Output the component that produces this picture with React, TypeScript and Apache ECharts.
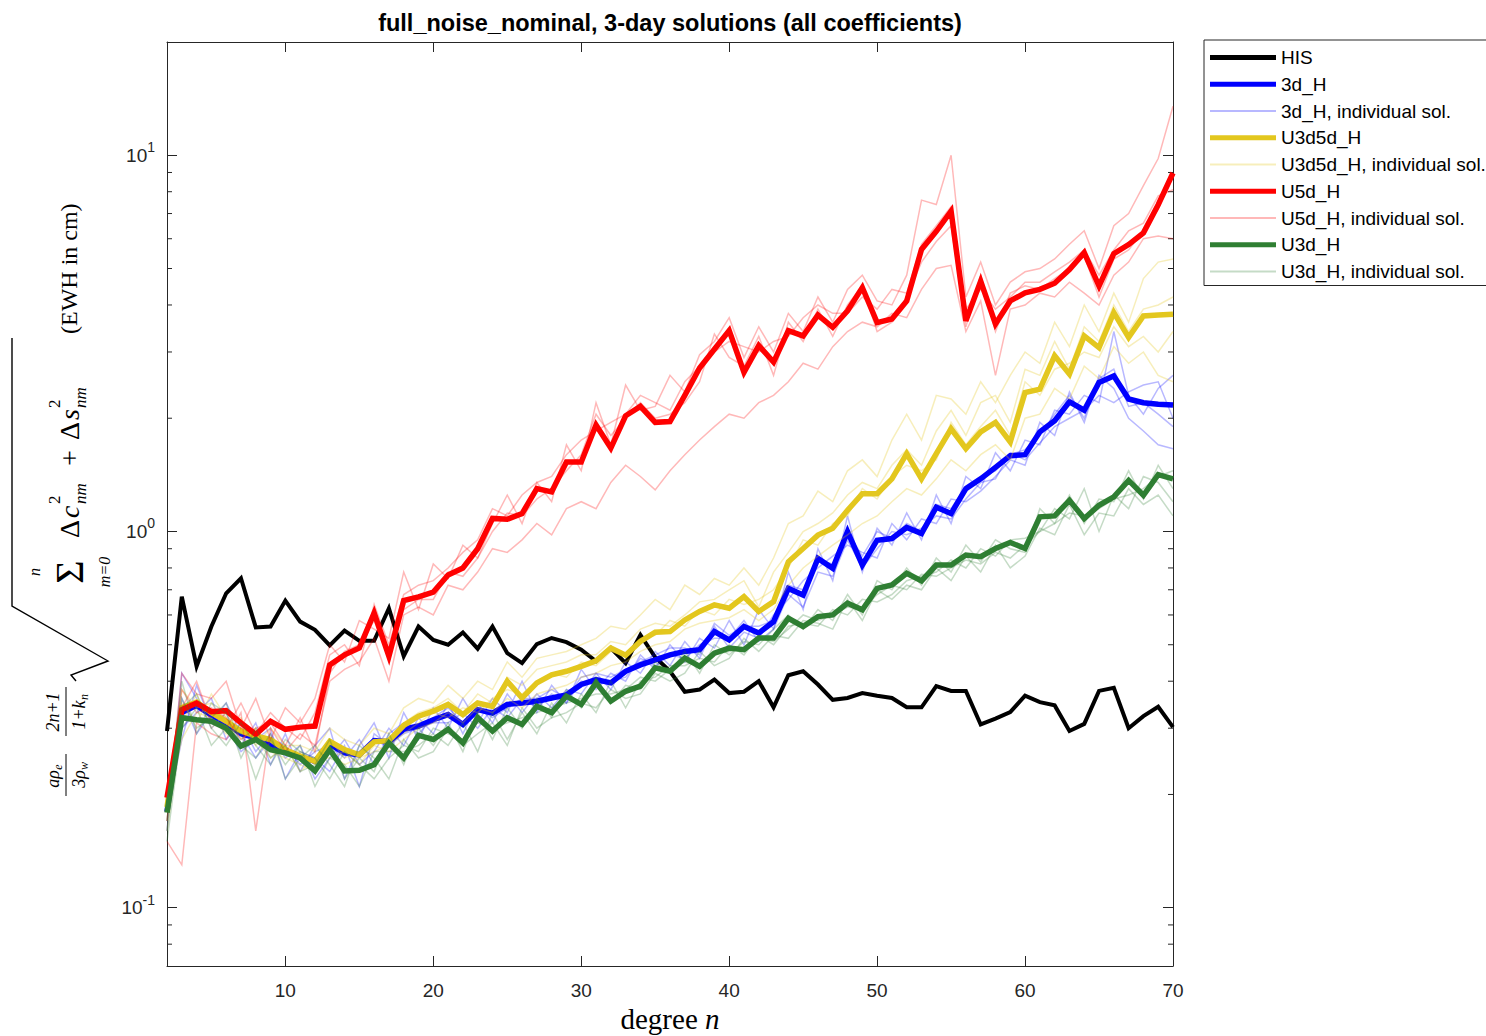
import React, { useEffect, useRef } from 'react';
import * as echarts from 'echarts';

const DEGREES = [2, 3, 4, 5, 6, 7, 8, 9, 10, 11, 12, 13, 14, 15, 16, 17, 18, 19, 20, 21, 22, 23, 24, 25, 26, 27, 28, 29, 30, 31, 32, 33, 34, 35, 36, 37, 38, 39, 40, 41, 42, 43, 44, 45, 46, 47, 48, 49, 50, 51, 52, 53, 54, 55, 56, 57, 58, 59, 60, 61, 62, 63, 64, 65, 66, 67, 68, 69, 70];

const X_TICKS = [10, 20, 30, 40, 50, 60, 70];
const Y_MINOR_TICKS = [0.08, 0.09, 0.2, 0.3, 0.4, 0.5, 0.6, 0.7, 0.8, 0.9, 2, 3, 4, 5, 6, 7, 8, 9];

const HIS = [0.295, 0.671, 0.438, 0.559, 0.685, 0.751, 0.556, 0.559, 0.655, 0.576, 0.548, 0.498, 0.545, 0.512, 0.512, 0.625, 0.466, 0.559,
  0.515, 0.5, 0.539, 0.488, 0.559, 0.475, 0.447, 0.502, 0.521, 0.508, 0.485, 0.452, 0.49, 0.447, 0.531, 0.463,
  0.425, 0.375, 0.38, 0.404, 0.372, 0.375, 0.40, 0.341, 0.415, 0.425, 0.392, 0.357, 0.361, 0.372, 0.366, 0.361, 0.341,
  0.341, 0.388, 0.377, 0.377, 0.307, 0.318, 0.331, 0.366, 0.352, 0.345, 0.295, 0.308, 0.377, 0.384, 0.30, 0.323, 0.342, 0.302];

const H3D = [0.18, 0.33, 0.345, 0.325, 0.31, 0.29, 0.283, 0.272, 0.262, 0.252, 0.245, 0.272, 0.258, 0.255, 0.278, 0.276, 0.298, 0.304,
  0.316, 0.326, 0.307, 0.336, 0.329, 0.347, 0.350, 0.354, 0.361, 0.368, 0.392, 0.404, 0.396, 0.425, 0.442, 0.456,
  0.47, 0.48, 0.485, 0.542, 0.515, 0.559, 0.537, 0.576, 0.706, 0.678, 0.848, 0.798, 1.0, 0.814, 0.948, 0.958, 1.025,
  0.988, 1.16, 1.116, 1.30, 1.38, 1.48, 1.59, 1.60, 1.84, 1.97, 2.21, 2.10, 2.49, 2.59, 2.25, 2.20, 2.18, 2.17];

const H3D_IND_1 = [0.16, 0.42, 0.36, 0.30, 0.33, 0.27, 0.31, 0.24, 0.29, 0.23, 0.27, 0.30, 0.22, 0.27, 0.31, 0.25, 0.33, 0.28,
  0.34, 0.30, 0.36, 0.31, 0.36, 0.33, 0.40, 0.33, 0.39, 0.35, 0.43, 0.38, 0.42, 0.40, 0.47, 0.43,
  0.50, 0.45, 0.52, 0.49, 0.58, 0.50, 0.62, 0.55, 0.78, 0.62, 0.90, 0.74, 1.10, 0.78, 1.02, 0.92, 1.12,
  0.95, 1.25, 1.05, 1.40, 1.30, 1.62, 1.45, 1.75, 1.70, 2.10, 2.05, 2.30, 2.20, 3.40, 2.30, 2.05, 2.40, 2.60];
const H3D_IND_2 = [0.19, 0.30, 0.33, 0.36, 0.28, 0.31, 0.26, 0.29, 0.25, 0.27, 0.22, 0.25, 0.28, 0.24, 0.26, 0.30, 0.27, 0.32,
  0.29, 0.35, 0.29, 0.35, 0.31, 0.37, 0.33, 0.37, 0.34, 0.38, 0.37, 0.42, 0.38, 0.45, 0.42, 0.48,
  0.44, 0.51, 0.46, 0.56, 0.49, 0.54, 0.52, 0.60, 0.66, 0.74, 0.80, 0.86, 0.92, 0.88, 0.85, 1.05, 0.95,
  1.08, 1.05, 1.22, 1.20, 1.28, 1.40, 1.55, 1.50, 1.95, 1.80, 2.35, 1.95, 2.60, 2.40, 2.00, 1.85, 1.70, 1.66];
const H3D_IND_3 = [0.17, 0.36, 0.29, 0.33, 0.30, 0.26, 0.28, 0.30, 0.22, 0.26, 0.25, 0.23, 0.27, 0.21, 0.29, 0.27, 0.29, 0.30,
  0.31, 0.31, 0.33, 0.30, 0.34, 0.32, 0.36, 0.34, 0.37, 0.35, 0.40, 0.39, 0.40, 0.41, 0.46, 0.44,
  0.47, 0.46, 0.50, 0.52, 0.52, 0.58, 0.51, 0.55, 0.68, 0.63, 0.78, 0.76, 0.95, 0.80, 0.90, 1.00, 0.98,
  1.02, 1.10, 1.08, 1.22, 1.35, 1.38, 1.62, 1.55, 1.72, 1.90, 2.00, 2.10, 2.30, 2.20, 2.35, 2.45, 2.50, 2.00];
const H3D_IND_4 = [0.18, 0.28, 0.39, 0.31, 0.35, 0.29, 0.25, 0.28, 0.27, 0.24, 0.26, 0.27, 0.25, 0.28, 0.24, 0.29, 0.31, 0.29,
  0.32, 0.34, 0.31, 0.34, 0.32, 0.34, 0.36, 0.36, 0.38, 0.36, 0.41, 0.42, 0.41, 0.43, 0.45, 0.47,
  0.49, 0.49, 0.47, 0.57, 0.53, 0.56, 0.56, 0.58, 0.72, 0.70, 0.84, 0.82, 1.00, 0.86, 1.00, 0.96, 1.05,
  1.00, 1.18, 1.15, 1.32, 1.40, 1.45, 1.60, 1.65, 1.80, 2.05, 2.30, 2.00, 2.55, 2.70, 2.15, 2.20, 2.05, 1.90];

const U3D5D = [0.185, 0.34, 0.352, 0.33, 0.313, 0.295, 0.286, 0.28, 0.263, 0.253, 0.245, 0.277, 0.263, 0.255, 0.276, 0.278, 0.305, 0.323,
  0.333, 0.347, 0.326, 0.35, 0.343, 0.40, 0.361, 0.396, 0.416, 0.425, 0.438, 0.453, 0.49, 0.469, 0.51, 0.54,
  0.542, 0.582, 0.613, 0.638, 0.625, 0.671, 0.613, 0.651, 0.831, 0.901, 0.978, 1.02, 1.139, 1.26, 1.26, 1.38, 1.61,
  1.38, 1.61, 1.875, 1.66, 1.84, 1.95, 1.73, 2.34, 2.39, 2.93, 2.62, 3.31, 3.08, 3.82, 3.28, 3.74, 3.76, 3.78];

const U3D5D_IND_1 = [0.17, 0.38, 0.34, 0.35, 0.31, 0.32, 0.27, 0.30, 0.27, 0.27, 0.26, 0.30, 0.28, 0.27, 0.30, 0.29, 0.34, 0.36,
  0.35, 0.39, 0.36, 0.40, 0.38, 0.45, 0.41, 0.46, 0.47, 0.48, 0.50, 0.52, 0.56, 0.55, 0.60, 0.66,
  0.62, 0.72, 0.68, 0.75, 0.72, 0.80, 0.72, 0.85, 1.05, 1.10, 1.28, 1.20, 1.45, 1.55, 1.40, 1.75, 2.05,
  1.75, 2.30, 2.25, 2.05, 2.50, 2.20, 2.60, 3.00, 2.80, 3.60, 3.10, 4.00, 3.40, 4.30, 3.60, 4.70, 5.20, 5.30];
const U3D5D_IND_2 = [0.16, 0.31, 0.37, 0.30, 0.33, 0.28, 0.30, 0.26, 0.25, 0.24, 0.23, 0.26, 0.24, 0.25, 0.26, 0.27, 0.29, 0.31,
  0.33, 0.32, 0.34, 0.33, 0.36, 0.38, 0.37, 0.40, 0.42, 0.41, 0.45, 0.44, 0.48, 0.47, 0.52, 0.53,
  0.58, 0.56, 0.62, 0.60, 0.66, 0.64, 0.66, 0.70, 0.80, 0.95, 0.92, 1.05, 1.10, 1.30, 1.22, 1.40, 1.50,
  1.45, 1.55, 1.95, 1.70, 1.90, 2.10, 1.80, 2.50, 2.30, 2.70, 2.80, 3.00, 2.90, 3.50, 3.10, 3.30, 3.00, 3.40];
const U3D5D_IND_3 = [0.19, 0.28, 0.33, 0.32, 0.29, 0.30, 0.28, 0.25, 0.27, 0.23, 0.25, 0.25, 0.26, 0.24, 0.27, 0.26, 0.28, 0.30,
  0.31, 0.33, 0.31, 0.34, 0.33, 0.36, 0.34, 0.37, 0.38, 0.39, 0.41, 0.42, 0.44, 0.45, 0.48, 0.50,
  0.51, 0.55, 0.57, 0.58, 0.59, 0.62, 0.58, 0.62, 0.72, 0.80, 0.86, 0.92, 0.98, 1.05, 1.10, 1.20, 1.30,
  1.25, 1.38, 1.55, 1.45, 1.60, 1.70, 1.55, 2.00, 2.05, 2.40, 2.25, 2.75, 2.55, 3.10, 2.80, 3.00, 2.60, 2.50];
const U3D5D_IND_4 = [0.18, 0.35, 0.31, 0.37, 0.32, 0.27, 0.29, 0.28, 0.26, 0.26, 0.24, 0.28, 0.25, 0.26, 0.28, 0.28, 0.31, 0.33,
  0.34, 0.36, 0.33, 0.37, 0.35, 0.41, 0.39, 0.43, 0.44, 0.45, 0.47, 0.47, 0.51, 0.50, 0.55, 0.57,
  0.56, 0.60, 0.65, 0.66, 0.70, 0.74, 0.63, 0.78, 0.88, 1.00, 1.05, 1.12, 1.25, 1.35, 1.30, 1.50, 1.65,
  1.50, 1.85, 2.10, 1.80, 2.20, 2.30, 1.95, 2.70, 2.60, 3.20, 2.70, 3.50, 3.20, 4.00, 3.40, 3.90, 4.00, 4.20];

const U5D = [0.196, 0.336, 0.350, 0.332, 0.334, 0.31, 0.289, 0.313, 0.298, 0.302, 0.304, 0.442, 0.470, 0.49, 0.607, 0.466, 0.655, 0.67,
  0.69, 0.766, 0.80, 0.90, 1.083, 1.078, 1.116, 1.30, 1.274, 1.53, 1.53, 1.92, 1.666, 2.03, 2.15, 1.95,
  1.96, 2.30, 2.72, 3.05, 3.42, 2.65, 3.12, 2.82, 3.42, 3.31, 3.76, 3.49, 3.86, 4.45, 3.59, 3.67, 4.10,
  5.62, 6.28, 7.10, 3.63, 4.63, 3.56, 4.10, 4.31, 4.40, 4.57, 4.97, 5.51, 4.49, 5.48, 5.79, 6.22, 7.39, 8.97];

const U5D_IND_1 = [0.17, 0.42, 0.37, 0.36, 0.40, 0.30, 0.36, 0.28, 0.34, 0.31, 0.36, 0.50, 0.45, 0.58, 0.55, 0.52, 0.78, 0.62,
  0.82, 0.75, 0.92, 0.85, 1.05, 1.25, 1.05, 1.35, 1.20, 1.70, 1.45, 2.20, 1.70, 2.45, 2.10, 2.15,
  2.60, 2.35, 2.95, 3.20, 3.70, 2.90, 3.50, 3.00, 3.80, 3.40, 4.20, 3.60, 4.40, 4.80, 4.10, 4.00, 4.80,
  7.60, 7.40, 10.0, 4.20, 5.20, 4.00, 4.60, 4.90, 5.00, 5.30, 5.80, 6.30, 5.00, 6.50, 7.00, 8.30, 9.80, 13.5];
const U5D_IND_2 = [0.15, 0.13, 0.31, 0.29, 0.28, 0.33, 0.16, 0.30, 0.26, 0.29, 0.27, 0.40, 0.43, 0.45, 0.52, 0.40, 0.60, 0.63,
  0.60, 0.72, 0.70, 0.78, 0.90, 0.88, 0.95, 1.05, 0.98, 1.15, 1.20, 1.15, 1.35, 1.50, 1.40, 1.29,
  1.45, 1.60, 1.75, 1.90, 2.05, 2.00, 2.20, 2.30, 2.50, 2.80, 2.70, 3.10, 3.40, 3.60, 3.50, 3.80, 3.70,
  4.40, 5.00, 5.10, 3.40, 4.10, 2.60, 3.90, 4.00, 4.30, 4.20, 4.60, 4.30, 4.00, 4.80, 5.20, 6.00, 6.10, 6.00];
const U5D_IND_3 = [0.18, 0.34, 0.40, 0.31, 0.30, 0.35, 0.29, 0.33, 0.30, 0.28, 0.33, 0.47, 0.50, 0.44, 0.64, 0.50, 0.68, 0.72,
  0.74, 0.80, 0.88, 0.95, 1.15, 1.10, 1.25, 1.35, 1.40, 1.60, 1.75, 1.85, 1.95, 2.05, 2.30, 2.20,
  2.10, 2.50, 2.75, 3.00, 3.20, 3.10, 3.00, 3.20, 3.30, 3.70, 4.00, 3.80, 3.80, 4.20, 3.90, 4.40, 4.30,
  5.80, 6.50, 7.30, 3.90, 4.40, 3.90, 4.20, 4.60, 4.60, 4.90, 5.20, 5.60, 4.80, 5.60, 6.30, 6.60, 7.80, 8.10];
const U5D_IND_4 = [0.19, 0.38, 0.33, 0.34, 0.32, 0.28, 0.30, 0.31, 0.27, 0.32, 0.26, 0.42, 0.48, 0.50, 0.58, 0.46, 0.62, 0.66,
  0.66, 0.78, 0.76, 0.85, 1.00, 1.12, 1.10, 1.22, 1.30, 1.45, 1.60, 2.05, 1.80, 2.00, 2.20, 2.00,
  2.05, 2.20, 2.50, 3.35, 2.90, 2.75, 3.30, 2.60, 3.60, 3.20, 3.90, 3.30, 4.00, 4.50, 3.40, 3.60, 4.20,
  5.20, 5.90, 6.50, 3.50, 4.80, 3.40, 4.30, 4.50, 4.40, 4.70, 5.00, 5.40, 4.20, 5.30, 5.60, 6.30, 7.20, 9.00];

const U3D = [0.179, 0.32, 0.316, 0.313, 0.30, 0.269, 0.28, 0.263, 0.258, 0.25, 0.231, 0.263, 0.231, 0.232, 0.24, 0.274, 0.25, 0.287,
  0.28, 0.298, 0.274, 0.32, 0.295, 0.32, 0.307, 0.343, 0.33, 0.365, 0.347, 0.396, 0.354, 0.376, 0.388, 0.434,
  0.425, 0.461, 0.438, 0.475, 0.49, 0.485, 0.521, 0.521, 0.588, 0.559, 0.594, 0.60, 0.645, 0.619, 0.706, 0.721, 0.774,
  0.739, 0.814, 0.814, 0.866, 0.857, 0.901, 0.935, 0.901, 1.094, 1.10, 1.21, 1.083, 1.174, 1.236, 1.367, 1.248, 1.416, 1.38];

const U3D_IND_1 = [0.17, 0.40, 0.29, 0.35, 0.33, 0.25, 0.30, 0.25, 0.27, 0.23, 0.24, 0.28, 0.22, 0.25, 0.23, 0.29, 0.24, 0.30,
  0.27, 0.31, 0.26, 0.33, 0.28, 0.34, 0.30, 0.36, 0.32, 0.38, 0.34, 0.41, 0.35, 0.39, 0.38, 0.45,
  0.42, 0.48, 0.42, 0.50, 0.47, 0.51, 0.50, 0.55, 0.60, 0.55, 0.62, 0.58, 0.68, 0.60, 0.74, 0.70, 0.80,
  0.72, 0.85, 0.78, 0.92, 0.83, 0.95, 0.90, 0.88, 1.15, 1.05, 1.25, 1.05, 1.22, 1.20, 1.45, 1.22, 1.50, 1.30];
const U3D_IND_2 = [0.15, 0.30, 0.34, 0.27, 0.30, 0.29, 0.22, 0.28, 0.24, 0.27, 0.21, 0.25, 0.24, 0.21, 0.26, 0.26, 0.26, 0.27,
  0.29, 0.27, 0.31, 0.26, 0.33, 0.28, 0.33, 0.29, 0.35, 0.31, 0.37, 0.33, 0.40, 0.34, 0.40, 0.41,
  0.44, 0.44, 0.46, 0.45, 0.50, 0.47, 0.53, 0.50, 0.56, 0.57, 0.56, 0.62, 0.60, 0.66, 0.65, 0.68, 0.74,
  0.76, 0.78, 0.84, 0.80, 0.90, 0.86, 0.95, 0.96, 1.00, 1.15, 1.08, 1.30, 1.00, 1.25, 1.15, 1.40, 1.35, 1.20];
const U3D_IND_3 = [0.19, 0.34, 0.37, 0.30, 0.27, 0.31, 0.27, 0.24, 0.28, 0.26, 0.25, 0.22, 0.26, 0.24, 0.22, 0.25, 0.27, 0.26,
  0.30, 0.29, 0.28, 0.31, 0.30, 0.31, 0.32, 0.33, 0.34, 0.35, 0.36, 0.37, 0.37, 0.38, 0.41, 0.40,
  0.43, 0.45, 0.44, 0.47, 0.48, 0.49, 0.52, 0.51, 0.55, 0.60, 0.58, 0.60, 0.63, 0.62, 0.68, 0.72, 0.70,
  0.77, 0.76, 0.80, 0.84, 0.82, 0.88, 0.85, 0.92, 1.00, 1.05, 1.12, 1.10, 1.15, 1.22, 1.25, 1.30, 1.40, 1.45];
const U3D_IND_4 = [0.16, 0.36, 0.30, 0.32, 0.35, 0.27, 0.25, 0.29, 0.22, 0.25, 0.27, 0.24, 0.21, 0.27, 0.25, 0.22, 0.28, 0.25,
  0.26, 0.30, 0.27, 0.29, 0.31, 0.27, 0.34, 0.30, 0.32, 0.33, 0.35, 0.34, 0.38, 0.36, 0.37, 0.42,
  0.40, 0.42, 0.48, 0.44, 0.46, 0.52, 0.48, 0.53, 0.52, 0.58, 0.57, 0.55, 0.66, 0.58, 0.70, 0.66, 0.72,
  0.70, 0.80, 0.74, 0.86, 0.78, 0.92, 0.80, 0.86, 1.02, 0.98, 1.18, 0.98, 1.12, 1.10, 1.30, 1.18, 1.25, 1.10];

const SANS = '"Liberation Sans", Arial, Helvetica, sans-serif';
const SERIF = '"Liberation Serif", "Times New Roman", serif';
const AXIS_COLOR = '#262626';

const C_HIS = '#000000';
const C_3D = '#0000FF';
const C_3D_IND = 'rgba(0,0,255,0.28)';
const C_U35 = '#E3C71E';
const C_U35_IND = 'rgba(227,199,30,0.3)';
const C_U5 = '#FF0000';
const C_U5_IND = 'rgba(255,0,0,0.28)';
const C_U3 = '#2F7F33';
const C_U3_IND = 'rgba(47,127,51,0.28)';

const THICK_ICON = 'path://M0,0H66V5H0Z';
const THIN_ICON = 'path://M0,0H66V2H0Z';

function pts(vals: number[]) {
  return DEGREES.map((n, i) => [n, vals[i]]);
}

function line(name: string, vals: number[], color: string, width: number) {
  return {
    type: 'line',
    name,
    data: pts(vals),
    symbol: 'none',
    showSymbol: false,
    silent: true,
    color,
    itemStyle: { color },
    lineStyle: { color, width, join: 'miter', cap: 'butt' },
    clip: true,
  };
}

function T(x: number, y: number, text: string, size: number, italic = false, align = 'center') {
  return {
    type: 'text',
    x,
    y,
    style: {
      text,
      font: `${italic ? 'italic ' : ''}${size}px ${SERIF}`,
      fill: '#000',
      textAlign: align,
      textVerticalAlign: 'middle',
      verticalAlign: 'middle',
    },
  };
}

function L(x1: number, y1: number, x2: number, y2: number, w = 1) {
  return { type: 'line', shape: { x1, y1, x2, y2 }, style: { stroke: '#000', lineWidth: w } };
}

// local coordinates of the rotated y-axis title: x runs up the page, y runs to the right
const yLabelChildren = [
  T(21, -13, 'aρ', 18, true), T(33, -8, 'e', 12, true),
  L(4, 0, 46, 0, 1),
  T(21, 13, '3ρ', 18, true), T(34, 18, 'w', 12, true),
  T(88, -13, '2n+1', 18, true),
  L(64, 0, 113, 0, 1),
  T(85, 13, '1+k', 18, true), T(103, 18, 'n', 12, true),
  {
    type: 'polyline',
    shape: { points: [[119, 10], [125, 5], [139, 42], [194, -54], [462, -54]] },
    style: { stroke: '#000', lineWidth: 1.4, fill: 'none' },
  },
  T(228, 3, 'Σ', 40), T(228, -32, 'n', 16, true), T(228, 38, 'm=0', 16, true),
  T(262, 3, 'Δ', 28, false, 'left'), T(282, 3, 'c', 28, true, 'left'),
  T(296, -12, '2', 17, false, 'left'), T(296, 14, 'nm', 17, true, 'left'),
  T(342, 3, '+', 28),
  T(360, 3, 'Δ', 28, false, 'left'), T(380, 3, 's', 28, true, 'left'),
  T(392, -12, '2', 17, false, 'left'), T(392, 14, 'nm', 17, true, 'left'),
  T(466, 3, '(EWH in cm)', 24, false, 'left'),
];

export default function App() {
  const ref = useRef<HTMLDivElement>(null);
  useEffect(() => {
    const chart = echarts.init(ref.current!, null, { renderer: 'svg' });
    const option: any = {
      animation: false,
      backgroundColor: '#ffffff',
      grid: { left: 167, top: 42, width: 1006, height: 924, show: false, outerBoundsMode: 'none', containLabel: false },
      xAxis: [
        {
          type: 'value', min: 2, max: 70, position: 'bottom',
          axisLine: { show: true, onZero: false, lineStyle: { color: AXIS_COLOR, width: 1 } },
          axisTick: { show: true, inside: true, length: 10, customValues: X_TICKS, lineStyle: { color: AXIS_COLOR } },
          axisLabel: { show: true, customValues: X_TICKS, margin: 15, fontSize: 19, fontFamily: SANS, color: AXIS_COLOR },
          splitLine: { show: false },
          name: 'degree {i|n}', nameLocation: 'middle', nameGap: 37,
          nameTextStyle: {
            fontFamily: SERIF, fontSize: 29, lineHeight: 29, color: '#000',
            rich: { i: { fontFamily: SERIF, fontStyle: 'italic', fontSize: 29, lineHeight: 29, color: '#000' } },
          },
        },
        {
          type: 'value', min: 2, max: 70, position: 'top',
          axisLine: { show: true, onZero: false, lineStyle: { color: AXIS_COLOR, width: 1 } },
          axisTick: { show: true, inside: true, length: 10, customValues: X_TICKS, lineStyle: { color: AXIS_COLOR } },
          axisLabel: { show: false },
          splitLine: { show: false },
        },
      ],
      yAxis: [
        {
          type: 'log', logBase: 10, min: 0.07, max: 20, position: 'left',
          axisLine: { show: true, onZero: false, lineStyle: { color: AXIS_COLOR, width: 1 } },
          axisTick: { show: true, inside: true, length: 10, lineStyle: { color: AXIS_COLOR } },
          axisLabel: {
            show: true, showMinLabel: false, showMaxLabel: false, margin: 12,
            fontSize: 19, fontFamily: SANS, color: AXIS_COLOR, lineHeight: 30,
            formatter: (v: number) => '10{sup|' + Math.round(Math.log10(v)) + '}',
            rich: { sup: { fontSize: 14, fontFamily: SANS, color: AXIS_COLOR, lineHeight: 14, verticalAlign: 'top' } },
          },
          splitLine: { show: false },
          minorTick: { show: false },
        },
        {
          type: 'log', logBase: 10, min: 0.07, max: 20, position: 'right',
          axisLine: { show: true, onZero: false, lineStyle: { color: AXIS_COLOR, width: 1 } },
          axisTick: { show: true, inside: true, length: 10, lineStyle: { color: AXIS_COLOR } },
          axisLabel: { show: false },
          splitLine: { show: false },
        },
      ],
      legend: {
        orient: 'vertical', left: 1204, top: 40,
        padding: [8, 40, 4.5, 6], itemWidth: 66, itemHeight: 14, itemGap: 7.75,
        borderColor: AXIS_COLOR, borderWidth: 1, backgroundColor: '#ffffff',
        selectedMode: false,
        textStyle: { fontSize: 19, fontFamily: SANS, color: '#000' },
        data: [
          { name: 'HIS', icon: THICK_ICON },
          { name: '3d_H', icon: THICK_ICON },
          { name: '3d_H, individual sol.', icon: THIN_ICON },
          { name: 'U3d5d_H', icon: THICK_ICON },
          { name: 'U3d5d_H, individual sol.', icon: THIN_ICON },
          { name: 'U5d_H', icon: THICK_ICON },
          { name: 'U5d_H, individual sol.', icon: THIN_ICON },
          { name: 'U3d_H', icon: THICK_ICON },
          { name: 'U3d_H, individual sol.', icon: THIN_ICON },
        ],
      },
      graphic: [
        {
          type: 'text', x: 670, y: 23,
          style: {
            text: 'full_noise_nominal, 3-day solutions (all coefficients)',
            font: `bold 23.5px ${SANS}`, fill: '#000', textAlign: 'center', textVerticalAlign: 'middle', verticalAlign: 'middle',
          },
        },
        { type: 'group', x: 66, y: 800, rotation: Math.PI / 2, children: yLabelChildren },
      ],
      series: [
        line('HIS', HIS, C_HIS, 4),
        line('3d_H', H3D, C_3D, 5.5),
        line('3d_H, individual sol.', H3D_IND_1, C_3D_IND, 1.5),
        line('3d_H, individual sol.', H3D_IND_2, C_3D_IND, 1.5),
        line('3d_H, individual sol.', H3D_IND_3, C_3D_IND, 1.5),
        line('3d_H, individual sol.', H3D_IND_4, C_3D_IND, 1.5),
        line('U3d5d_H', U3D5D, C_U35, 5.5),
        line('U3d5d_H, individual sol.', U3D5D_IND_1, C_U35_IND, 1.5),
        line('U3d5d_H, individual sol.', U3D5D_IND_2, C_U35_IND, 1.5),
        line('U3d5d_H, individual sol.', U3D5D_IND_3, C_U35_IND, 1.5),
        line('U3d5d_H, individual sol.', U3D5D_IND_4, C_U35_IND, 1.5),
        line('U5d_H', U5D, C_U5, 5.5),
        line('U5d_H, individual sol.', U5D_IND_1, C_U5_IND, 1.5),
        line('U5d_H, individual sol.', U5D_IND_2, C_U5_IND, 1.5),
        line('U5d_H, individual sol.', U5D_IND_3, C_U5_IND, 1.5),
        line('U5d_H, individual sol.', U5D_IND_4, C_U5_IND, 1.5),
        line('U3d_H', U3D, C_U3, 5.5),
        line('U3d_H, individual sol.', U3D_IND_1, C_U3_IND, 1.5),
        line('U3d_H, individual sol.', U3D_IND_2, C_U3_IND, 1.5),
        line('U3d_H, individual sol.', U3D_IND_3, C_U3_IND, 1.5),
        line('U3d_H, individual sol.', U3D_IND_4, C_U3_IND, 1.5),
        {
          type: 'custom',
          name: 'minor ticks',
          silent: true,
          clip: false,
          data: Y_MINOR_TICKS.map((v) => [2, v]),
          encode: { x: 0, y: 1 },
          renderItem: (params: any, api: any) => {
            const v = api.value(1);
            const l = api.coord([2, v]);
            const r = api.coord([70, v]);
            return {
              type: 'group',
              children: [
                { type: 'line', shape: { x1: l[0], y1: l[1], x2: l[0] + 5, y2: l[1] }, style: { stroke: AXIS_COLOR, lineWidth: 1 } },
                { type: 'line', shape: { x1: r[0] - 5, y1: r[1], x2: r[0], y2: r[1] }, style: { stroke: AXIS_COLOR, lineWidth: 1 } },
              ],
            };
          },
        },
      ],
    };
    chart.setOption(option);
    return () => chart.dispose();
  }, []);
  return (
    <div
      ref={ref}
      style={{ position: 'absolute', left: 0, top: 0, width: 1486, height: 1036, background: '#ffffff' }}
    />
  );
}
